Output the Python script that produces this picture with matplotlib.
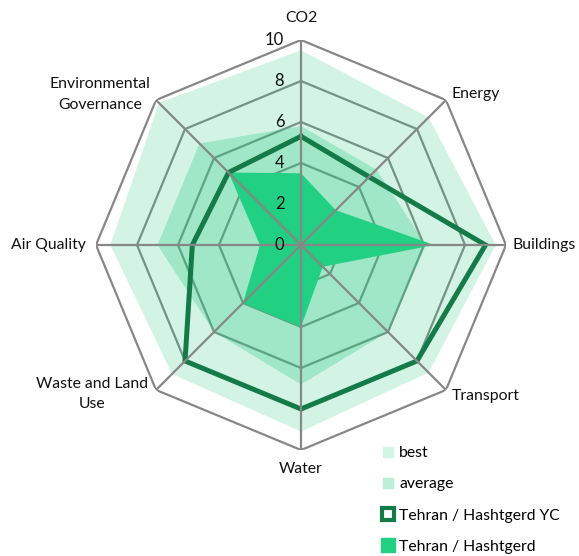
import numpy as np
import matplotlib
matplotlib.use("Agg")
import matplotlib.pyplot as plt
from matplotlib.lines import Line2D

plt.rcParams["font.family"] = ["Lato", "DejaVu Sans"]

# ---- data ----
categories = ["CO2", "Energy", "Buildings", "Transport", "Water",
              "Waste and Land\nUse", "Air Quality", "Environmental\nGovernance"]
best = [9.5, 8.8, 9.5, 8.8, 9.1, 8.9, 9.3, 9.8]
average = [5.8, 5.2, 6.1, 6.0, 6.8, 6.0, 7.0, 7.0]
tehran_yc = [5.3, 4.7, 9.0, 8.0, 8.0, 8.0, 5.3, 5.0]
tehran = [3.5, 2.4, 6.5, 1.5, 4.0, 4.0, 2.0, 5.0]
levels = [0, 2, 4, 6, 8, 10]

GRID = "#878787"
FILL = "#27c97f"
BRIGHT = "#22d083"
DARK = "#147a48"

# label offsets in points, alignment per spoke
label_style = [
    ((0, 16), "center", "center"),
    ((4, 4), "left", "center"),
    ((5, 0), "left", "center"),
    ((4, -4), "left", "center"),
    ((0, -14), "center", "center"),
    ((-6, -3), "right", "center"),
    ((-7, 0), "right", "center"),
    ((-4, 4), "right", "center"),
]


def closed(vals):
    return list(vals) + [vals[0]]


fig = plt.figure(figsize=(5.79, 5.56), dpi=100)
cx, cy = 301 / 579, 1 - 245 / 556
rw, rh = 205 / 579, 205 / 556
ax = fig.add_axes([cx - rw, cy - rh, 2 * rw, 2 * rh], projection="polar")
ax.set_theta_zero_location("N")
ax.set_theta_direction(-1)
ax.set_ylim(0, 10)
ax.grid(False)
ax.spines["polar"].set_visible(False)
ax.set_xticks([])
ax.set_yticks([])
ax.patch.set_alpha(0)

n = len(categories)
theta = np.arange(n) * 2 * np.pi / n
th_c = closed(theta)

# octagonal rings (under the fills)
for lv in levels[1:]:
    ax.plot(th_c, [lv] * (n + 1), color=GRID, lw=1.6, zorder=1,
            solid_joinstyle="miter")

ax.fill(th_c, closed(best), color=FILL, alpha=0.2, lw=0, zorder=2)
ax.fill(th_c, closed(average), color=FILL, alpha=0.3, lw=0, zorder=3)
ax.fill(th_c, closed(tehran), color=BRIGHT, lw=0, zorder=4)
ax.plot(th_c, closed(tehran_yc), color=DARK, lw=3.6, zorder=5,
        solid_joinstyle="miter")

# spokes on top
for t in theta:
    ax.plot([t, t], [0, levels[-1]], color=GRID, lw=1.6, zorder=6)

# radial tick labels along the CO2 spoke
for lv in levels:
    ax.annotate(str(lv), (0, lv), xytext=(-12, 0), textcoords="offset points",
                ha="right", va="center", fontsize=12, color="#111111",
                zorder=7, annotation_clip=False)

# category labels
for t, name, (off, ha, va) in zip(theta, categories, label_style):
    ax.annotate(name, (t, levels[-1]), xytext=off, textcoords="offset points",
                ha=ha, va=va, multialignment="center", fontsize=11.3,
                color="#111111", linespacing=1.55, annotation_clip=False)

handles = [
    Line2D([], [], ls="none", marker="s", ms=7.5, mfc="#d4f4e5", mec="#d4f4e5"),
    Line2D([], [], ls="none", marker="s", ms=7.5, mfc="#bdeed7", mec="#bdeed7"),
    Line2D([], [], ls="none", marker="s", ms=8.5, mfc="white", mec=DARK, mew=3),
    Line2D([], [], ls="none", marker="s", ms=10, mfc=BRIGHT, mec=BRIGHT),
]
names = ["best", "average", "Tehran / Hashtgerd YC", "Tehran / Hashtgerd"]
fig.legend(handles, names, loc="upper left",
           bbox_to_anchor=(381 / 579, 1 - 446 / 556), frameon=False,
           fontsize=11.3, handlelength=0.9, handletextpad=0.25,
           labelspacing=1.1, borderpad=0, borderaxespad=0)

fig.savefig("out.png", dpi=100, facecolor="white")
